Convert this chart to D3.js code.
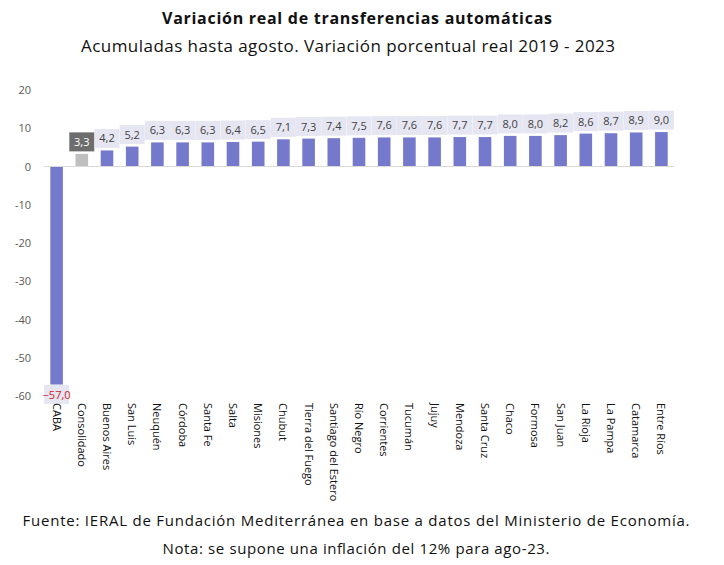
<!DOCTYPE html>
<html><head><meta charset="utf-8">
<script src="https://cdn.jsdelivr.net/npm/d3@7"></script>
<style>body{margin:0;background:#fff;} text{font-family:"Open Sans",sans-serif;}</style>
</head><body>
<svg id="c" width="724" height="565"></svg>
<script>
const categories = ["CABA","Consolidado","Buenos Aires","San Luis","Neuquén","Córdoba","Santa Fe","Salta","Misiones","Chubut","Tierra del Fuego","Santiago del Estero","Río Negro","Corrientes","Tucumán","Jujuy","Mendoza","Santa Cruz","Chaco","Formosa","San Juan","La Rioja","La Pampa","Catamarca","Entre Ríos"];
const values = [-57.0,3.3,4.2,5.2,6.3,6.3,6.3,6.4,6.5,7.1,7.3,7.4,7.5,7.6,7.6,7.6,7.7,7.7,8.0,8.0,8.2,8.6,8.7,8.9,9.0];
const yTicks = [20,10,0,-10,-20,-30,-40,-50,-60];
const title = "Variación real de transferencias automáticas";
const subtitle = "Acumuladas hasta agosto. Variación porcentual real 2019 - 2023";
const notes = ["Fuente: IERAL de Fundación Mediterránea en base a datos del Ministerio de Economía.","Nota: se supone una inflación del 12% para ago-23."];

const svg = d3.select("#c");
const fmt = v => d3.format(".1f")(v).replace(".", ",");

const x = d3.scaleBand().domain(categories).range([44, 674]).paddingInner(0.5).paddingOuter(0.25);
const y = d3.scaleLinear().domain([-60, 20]).range([396, 90]);

svg.append("text").attr("x", 357).attr("y", 24).attr("text-anchor","middle")
  .attr("font-size", 16).attr("font-weight","bold").attr("fill","#111").attr("textLength", 390).text(title);
svg.append("text").attr("x", 348).attr("y", 52).attr("text-anchor","middle")
  .attr("font-size", 17).attr("fill","#111").attr("textLength", 534).text(subtitle);

// y axis labels
svg.append("g").selectAll("text").data(yTicks).join("text")
  .attr("x", 31).attr("y", d => y(d) + 4).attr("text-anchor","end")
  .attr("font-size", 11).attr("fill","#595959").text(d => d);

// bars
svg.append("g").selectAll("rect").data(categories).join("rect")
  .attr("x", d => x(d)).attr("width", x.bandwidth())
  .attr("y", (d,i) => y(Math.max(0, values[i])))
  .attr("height", (d,i) => Math.abs(y(values[i]) - y(0)))
  .attr("fill", (d,i) => d === "Consolidado" ? "#bfbfbf" : "#7479cc");

// zero line
svg.append("line").attr("x1", 44).attr("x2", 674).attr("y1", y(0)).attr("y2", y(0))
  .attr("stroke","#d9d9d9").attr("stroke-width",1);

// value labels with boxes
const lg = svg.append("g");
categories.forEach((c,i) => {
  const v = values[i];
  const cx = x(c) + x.bandwidth()/2;
  const neg = v < 0;
  const cy = neg ? y(v) + 10 : y(v) - 12;
  const isCons = c === "Consolidado";
  lg.append("rect").attr("x", cx - 12.5).attr("y", cy - 9.5).attr("width", 25).attr("height", 19)
    .attr("fill", isCons ? "#6d6d6d" : "#e6e6f2");
  lg.append("text").attr("x", cx).attr("y", cy + 4).attr("text-anchor","middle")
    .attr("font-size", 11).attr("fill", isCons ? "#fff" : (neg ? "#d0202a" : "#404040"))
    .text(fmt(v));
});

// category labels rotated
svg.append("g").selectAll("text").data(categories).join("text")
  .attr("transform", d => `translate(${x(d) + x.bandwidth()/2 - 4},${403}) rotate(90)`)
  .attr("font-size", 11).attr("fill","#111").text(d => d);

svg.append("g").selectAll("text").data(notes).join("text")
  .attr("x", 356).attr("y", (d,i) => 526 + i*28).attr("text-anchor","middle")
  .attr("font-size", 15).attr("fill","#111")
  .attr("textLength", (d,i) => i === 0 ? 667 : 387).text(d => d);
</script>
</body></html>
